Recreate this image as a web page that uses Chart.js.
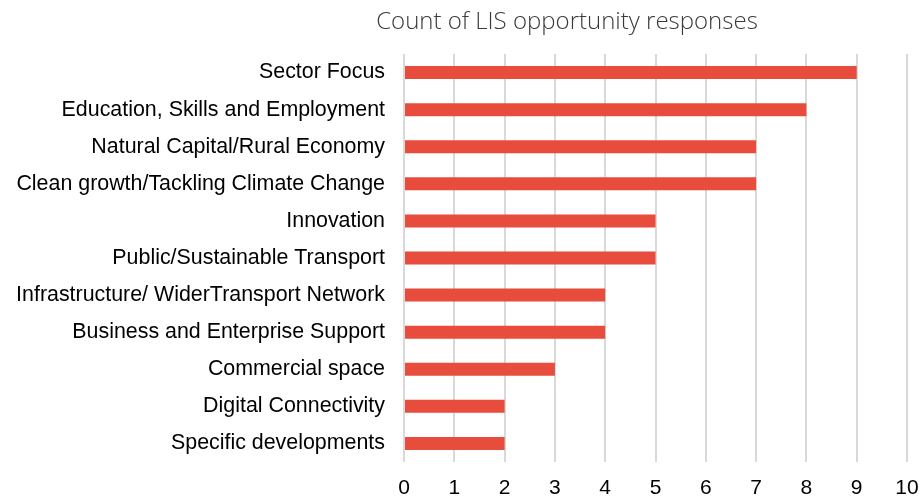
<!DOCTYPE html>
<html>
<head>
<meta charset="utf-8">
<script src="https://cdn.jsdelivr.net/npm/chart.js@4.4.1/dist/chart.umd.min.js"></script>
<style>
  html, body { margin: 0; padding: 0; background: #ffffff; }
  #wrap { width: 921px; height: 496px; position: relative; }
</style>
</head>
<body>
<div id="wrap"><canvas id="c"></canvas></div>
<script>
// Categories and counts, top to bottom
const categories = [
  'Sector Focus',
  'Education, Skills and Employment',
  'Natural Capital/Rural Economy',
  'Clean growth/Tackling Climate Change',
  'Innovation',
  'Public/Sustainable Transport',
  'Infrastructure/ WiderTransport Network',
  'Business and Enterprise Support',
  'Commercial space',
  'Digital Connectivity',
  'Specific developments'
];
const counts = [9, 8, 7, 7, 5, 5, 4, 4, 3, 2, 2];
const axisTicks = [0, 1, 2, 3, 4, 5, 6, 7, 8, 9, 10];
const chartTitle = 'Count of LIS opportunity responses';

const labelFont = '"Liberation Sans", Arial, sans-serif';

// Title drawn above the plot, offset to the right of the canvas centre
const titlePlugin = {
  id: 'offsetTitle',
  afterDraw(chart) {
    const ctx = chart.ctx;
    ctx.save();
    ctx.font = '300 24px "Open Sans", "Noto Sans", sans-serif';
    ctx.fillStyle = '#3a3a3a';
    ctx.textAlign = 'center';
    ctx.textBaseline = 'middle';
    ctx.fillText(chartTitle, 567, 22);
    ctx.restore();
  }
};

new Chart(document.getElementById('c'), {
  type: 'bar',
  data: {
    labels: categories,
    datasets: [{
      data: counts,
      backgroundColor: '#E84C3D',
      borderWidth: 0,
      categoryPercentage: 1.0,
      barPercentage: 0.35
    }]
  },
  options: {
    indexAxis: 'y',
    responsive: true,
    maintainAspectRatio: false,
    animation: false,
    layout: { padding: { top: 54, right: 0, bottom: 0, left: 0 } },
    plugins: {
      legend: { display: false },
      title: { display: false },
      tooltip: { enabled: false }
    },
    scales: {
      x: {
        min: axisTicks[0],
        max: axisTicks[axisTicks.length - 1],
        afterBuildTicks(scale) {
          scale.ticks = axisTicks.map(v => ({ value: v }));
        },
        afterFit(scale) {
          scale.height = 34;
          scale.paddingLeft = 0;
          scale.paddingRight = 14;
        },
        grid: { color: '#D9D9D9', lineWidth: 2, drawTicks: false },
        border: { display: false },
        ticks: {
          color: '#000000',
          padding: 16,
          font: { family: labelFont, size: 21, lineHeight: 1.0 }
        }
      },
      y: {
        grid: { display: false, drawTicks: false },
        border: { display: false },
        afterFit(scale) { scale.width = 404; },
        ticks: {
          color: '#000000',
          padding: 19,
          font: { family: labelFont, size: 21.4 }
        }
      }
    }
  },
  plugins: [titlePlugin]
});
</script>
</body>
</html>
